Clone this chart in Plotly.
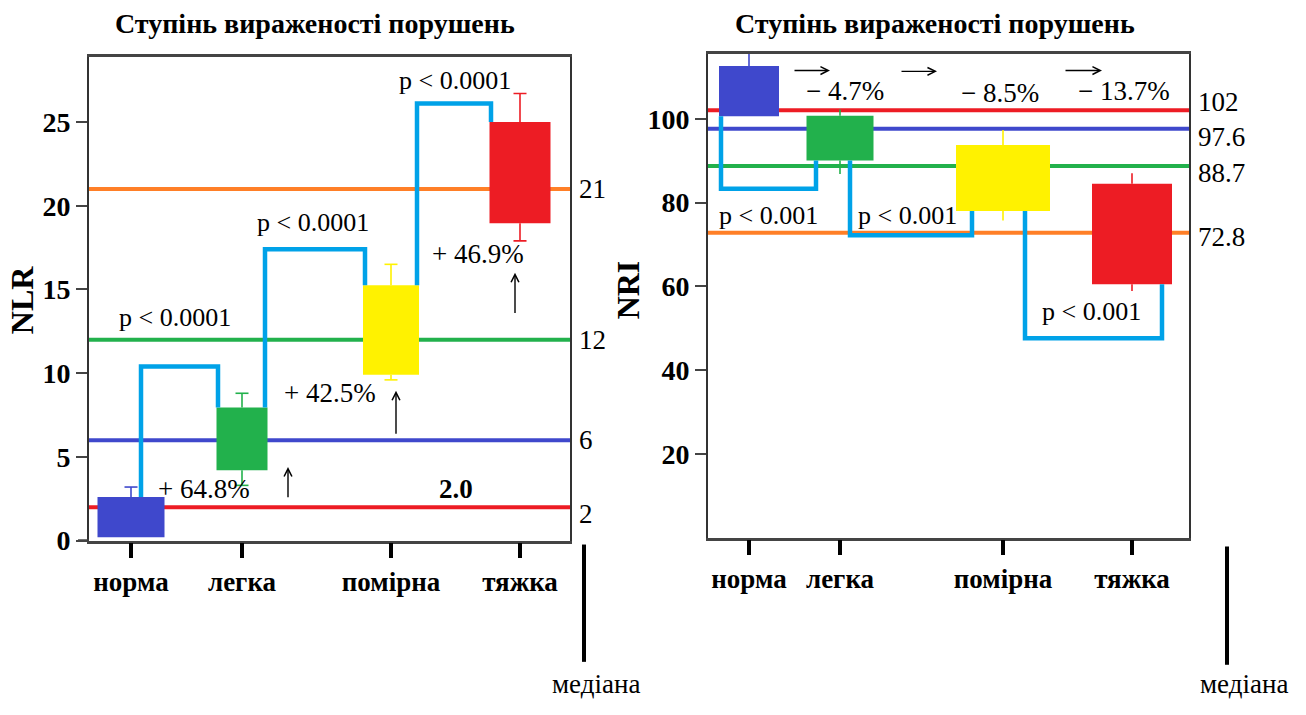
import plotly.graph_objects as go

# ---------------- data ----------------
categories = ["норма", "легка", "помірна", "тяжка"]

# NLR by severity group: box (lower/upper) and whisker ends
nlr_box_low = [0.2, 4.2, 9.9, 18.95]
nlr_box_high = [2.6, 7.95, 15.25, 25.0]
nlr_whisk_low = [0.2, 3.3, 9.6, 17.9]
nlr_whisk_high = [3.2, 8.8, 16.5, 26.7]
nlr_medians = [2, 6, 12, 21]
nlr_median_labels = ["2", "6", "12", "21"]
nlr_changes = ["+ 64.8%", "+ 42.5%", "+ 46.9%"]
nlr_pvalues = ["p < 0.0001", "p < 0.0001", "p < 0.0001"]

# NRI by severity group
nri_box_low = [100.6, 90.0, 78.0, 60.5]
nri_box_high = [112.6, 100.7, 93.7, 84.5]
nri_whisk_low = [100.6, 86.8, 75.7, 58.9]
nri_whisk_high = [118.0, 102.2, 97.3, 87.0]
nri_medians = [102, 97.6, 88.7, 72.8]
nri_median_labels = ["102", "97.6", "88.7", "72.8"]
nri_changes = ["− 4.7%", "− 8.5%", "− 13.7%"]
nri_pvalues = ["p < 0.001", "p < 0.001", "p < 0.001"]

title_text = "Ступінь вираженості порушень"
median_text = "медіана"

# ---------------- layout / style ----------------
SERIF = "Liberation Serif, Times New Roman, serif"
box_colors = ["#3f48cc", "#22b14c", "#fff200", "#ed1c24"]
median_colors = ["#ed1c24", "#3f48cc", "#22b14c", "#ff7f27"]
BRACKET = "#00a2e8"

nlr_x = [0.42, 1.53, 3.02, 4.31]
nlr_w = [0.67, 0.51, 0.56, 0.61]
nri_x = [0.41, 1.32, 2.95, 4.24]
nri_w = [0.60, 0.67, 0.94, 0.80]

nlr_bracket_x = [(0.52, 1.29), (1.76, 2.76), (3.28, 4.02)]
nlr_bracket_level = [10.4, 17.4, 26.1]
nri_bracket_x = [(0.13, 1.08), (1.42, 2.64), (3.17, 4.54)]
nri_bracket_level = [83.3, 72.2, 47.6]

nlr_p_pos = [(0.86, 13.3), (2.24, 19.0), (3.66, 27.5)]
nlr_change_pos = [(1.15, 3.1), (2.41, 8.8), (3.89, 17.1)]
nlr_arrows = [(1.99, 2.5, 4.4), (3.07, 6.3, 8.95), (4.26, 13.5, 16.0)]
nlr_label_shift = [-7, 0, 0, 0]

nri_p_pos = [(0.60, 77.0), (1.99, 77.0), (3.83, 54.1)]
nri_change_pos = [(1.37, 106.6), (2.92, 106.2), (4.16, 106.6)]
nri_arrows = [(0.85, 1.22, 111.5), (1.92, 2.29, 111.3), (3.56, 3.94, 111.5)]
nri_label_shift = [8, -8, -7, -4]

W, H = 1306, 715


def px(x):
    return x / W


def py(y):
    return 1 - y / H


def serif(size, bold=False):
    return dict(family=SERIF, size=size, color="black", weight="bold" if bold else "normal")


fig = go.Figure()
annotations = []
shapes = []


def add_panel(xr, yr, xpos, widths, lo, hi, wlo, whi, caps,
              medians, med_labels, label_shift,
              br_x, br_level, br_up, pvals, p_pos, changes, ch_pos, arrows, arrow_up):
    # median reference lines (beneath the boxes)
    for m, c in zip(medians, median_colors):
        shapes.append(dict(type="line", xref=f"{xr} domain", yref=yr, x0=0, x1=1,
                           y0=m, y1=m, line=dict(color=c, width=4), layer="below"))
    for m, lab, sh in zip(medians, med_labels, label_shift):
        annotations.append(dict(xref=f"{xr} domain", yref=yr, x=1, y=m, xanchor="left",
                                yanchor="middle", xshift=7, yshift=sh, text=lab, showarrow=False,
                                font=serif(27)))
    # boxes
    fig.add_trace(go.Bar(x=xpos, y=[h - l for h, l in zip(hi, lo)], base=lo, width=widths,
                         marker=dict(color=box_colors, line=dict(width=0)),
                         xaxis=xr, yaxis=yr, showlegend=False, hoverinfo="skip"))
    # whiskers
    for i in range(len(xpos)):
        c = box_colors[i]
        for a, b in ((hi[i], whi[i]), (lo[i], wlo[i])):
            if abs(b - a) < 1e-9:
                continue
            xs = [xpos[i], xpos[i]]
            ys = [a, b]
            if caps:
                xs += [None, xpos[i] - 0.065, xpos[i] + 0.065]
                ys += [None, b, b]
            fig.add_trace(go.Scatter(x=xs, y=ys, mode="lines", line=dict(color=c, width=1.6),
                                     xaxis=xr, yaxis=yr, showlegend=False, hoverinfo="skip"))
    # significance brackets between neighbouring groups
    ends = hi if br_up else lo
    for i, ((xa0, xb0), lev) in enumerate(zip(br_x, br_level)):
        fig.add_trace(go.Scatter(x=[xa0, xa0, xb0, xb0], y=[ends[i], lev, lev, ends[i + 1]],
                                 mode="lines", line=dict(color=BRACKET, width=4.5),
                                 xaxis=xr, yaxis=yr, showlegend=False, hoverinfo="skip"))
    for t, (x, y) in zip(pvals, p_pos):
        annotations.append(dict(xref=xr, yref=yr, x=x, y=y, text=t,
                                showarrow=False, font=serif(26)))
    for t, (x, y) in zip(changes, ch_pos):
        annotations.append(dict(xref=xr, yref=yr, x=x, y=y, text=t,
                                showarrow=False, font=serif(27)))
    for a in arrows:
        if arrow_up:
            x, y0, y1 = a
            head, tail = (x, y1), (x, y0)
        else:
            x0, x1, y = a
            head, tail = (x1, y), (x0, y)
        annotations.append(dict(xref=xr, yref=yr, axref=xr, ayref=yr, x=head[0], y=head[1],
                                ax=tail[0], ay=tail[1], text="", showarrow=True, arrowhead=5,
                                arrowsize=1.1, arrowwidth=1.4, arrowcolor="black"))


add_panel("x", "y", nlr_x, nlr_w, nlr_box_low, nlr_box_high, nlr_whisk_low, nlr_whisk_high, True,
          nlr_medians, nlr_median_labels, nlr_label_shift,
          nlr_bracket_x, nlr_bracket_level, True, nlr_pvalues, nlr_p_pos,
          nlr_changes, nlr_change_pos, nlr_arrows, True)
add_panel("x2", "y2", nri_x, nri_w, nri_box_low, nri_box_high, nri_whisk_low, nri_whisk_high, False,
          nri_medians, nri_median_labels, nri_label_shift,
          nri_bracket_x, nri_bracket_level, False, nri_pvalues, nri_p_pos,
          nri_changes, nri_change_pos, nri_arrows, False)

# bold "2.0" over the lowest NLR median line
annotations.append(dict(xref="x", yref="y", x=3.67, y=nlr_medians[0], yanchor="bottom", yshift=1,
                        text="2.0", showarrow=False, font=serif(27, True)))

# panel titles and axis titles
for cx in (315, 935):
    annotations.append(dict(xref="paper", yref="paper", x=px(cx), y=py(24), text=title_text,
                            showarrow=False, xanchor="center", yanchor="middle",
                            font=serif(28, True)))
for name, cx, cy in (("NLR", 22, 307), ("NRI", 628, 297)):
    annotations.append(dict(xref="paper", yref="paper", x=px(cx), y=py(cy), text=name,
                            textangle=-90, showarrow=False, xanchor="center", yanchor="middle",
                            font=serif(32, True)))

# short extension of the NLR baseline to the left of the y axis
shapes.append(dict(type="line", xref="paper", yref="y", x0=px(78), x1=px(89), y0=0, y1=0,
                   line=dict(color="#444", width=2.5)))

# "медіана" markers below each panel
for lx, ly0, ly1, tx in ((584, 557, 677, 596), (1227, 559, 680, 1244)):
    shapes.append(dict(type="line", xref="paper", yref="paper", x0=px(lx), x1=px(lx),
                       y0=py(ly0), y1=py(ly1), line=dict(color="black", width=4)))
    annotations.append(dict(xref="paper", yref="paper", x=px(tx), y=py(700), text=median_text,
                            showarrow=False, xanchor="center", yanchor="middle",
                            font=serif(27)))

xaxis_common = dict(range=[0, 4.81], showgrid=False, zeroline=False, showline=True, mirror=True,
                    linecolor="#444", linewidth=2.5, ticks="outside", ticklen=15, tickwidth=4,
                    tickcolor="black", tickmode="array", ticktext=categories,
                    tickfont=serif(27, True), fixedrange=True)
yaxis_common = dict(showgrid=False, zeroline=False, showline=True, mirror=True,
                    linecolor="#333", linewidth=2, ticks="outside", ticklen=11, tickwidth=2,
                    tickcolor="#444", tickmode="array",
                    tickfont=serif(28, True), fixedrange=True)

fig.update_layout(
    width=W, height=H,
    margin=dict(l=0, r=0, t=0, b=0),
    paper_bgcolor="white", plot_bgcolor="white",
    showlegend=False, barmode="overlay",
    xaxis=dict(xaxis_common, domain=[px(89), px(570)], tickvals=nlr_x, anchor="y"),
    yaxis=dict(yaxis_common, domain=[py(553), py(58)], range=[0, 28.9],
               tickvals=[0, 5, 10, 15, 20, 25], anchor="x"),
    xaxis2=dict(xaxis_common, domain=[px(708), px(1189)], tickvals=nri_x, anchor="y2"),
    yaxis2=dict(yaxis_common, domain=[py(550), py(55)], range=[0, 115.5],
                tickvals=[20, 40, 60, 80, 100], anchor="x2"),
    annotations=annotations,
    shapes=shapes,
)

fig.write_html("out.html")
